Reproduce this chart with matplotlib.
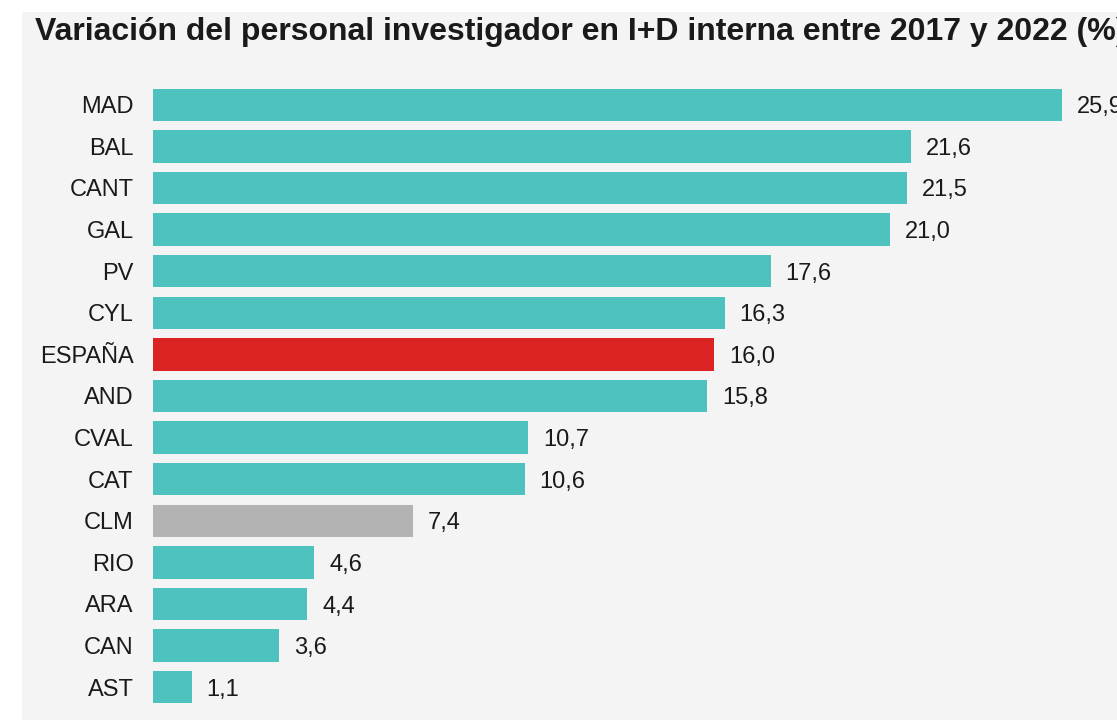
import matplotlib.pyplot as plt
from matplotlib.patches import Rectangle

plt.rcParams['font.family'] = ['Liberation Sans', 'DejaVu Sans']

regiones = ['MAD', 'BAL', 'CANT', 'GAL', 'PV', 'CYL', 'ESPAÑA', 'AND',
            'CVAL', 'CAT', 'CLM', 'RIO', 'ARA', 'CAN', 'AST']
variacion = [25.9, 21.6, 21.5, 21.0, 17.6, 16.3, 16.0, 15.8,
             10.7, 10.6, 7.4, 4.6, 4.4, 3.6, 1.1]

TEAL = '#4dc2bf'
colores = {'ESPAÑA': '#dc2324', 'CLM': '#b3b3b3'}

W, H = 1117, 720
fig = plt.figure(figsize=(W / 100, H / 100), dpi=100)
fig.patch.set_facecolor('white')

# fondo gris del panel
fig.patches.append(Rectangle((22 / W, 0), 1, 1 - 12 / H, transform=fig.transFigure,
                             facecolor='#f4f4f4', edgecolor='none', zorder=-1))

fig.text(35 / W, 1 - 32 / H, 'Variación del personal investigador en I+D interna entre 2017 y 2022 (%)',
         fontsize=23, fontweight='bold', color='#1a1a1a', va='center', ha='left')

ax = fig.add_axes([153 / W, 12 / H, 964 / W, 624 / H])
ax.patch.set_alpha(0)

y = list(range(len(regiones)))
cols = [colores.get(r, TEAL) for r in regiones]
ax.barh(y, variacion, height=0.78, color=cols)

for yi, v in zip(y, variacion):
    ax.text(v + 0.42, yi, f'{v:.1f}'.replace('.', ','), va='center_baseline', ha='left',
            fontsize=17, color='#1a1a1a')

ax.set_xlim(0, 964 / 35.09)
ax.set_ylim(14.5, -0.5)
ax.set_yticks(y)
ax.set_yticklabels(regiones, fontsize=17, color='#1a1a1a', va='center_baseline')
ax.tick_params(axis='y', length=0, pad=14)
ax.set_xticks([])
for s in ax.spines.values():
    s.set_visible(False)

fig.savefig('out.png', dpi=100)
